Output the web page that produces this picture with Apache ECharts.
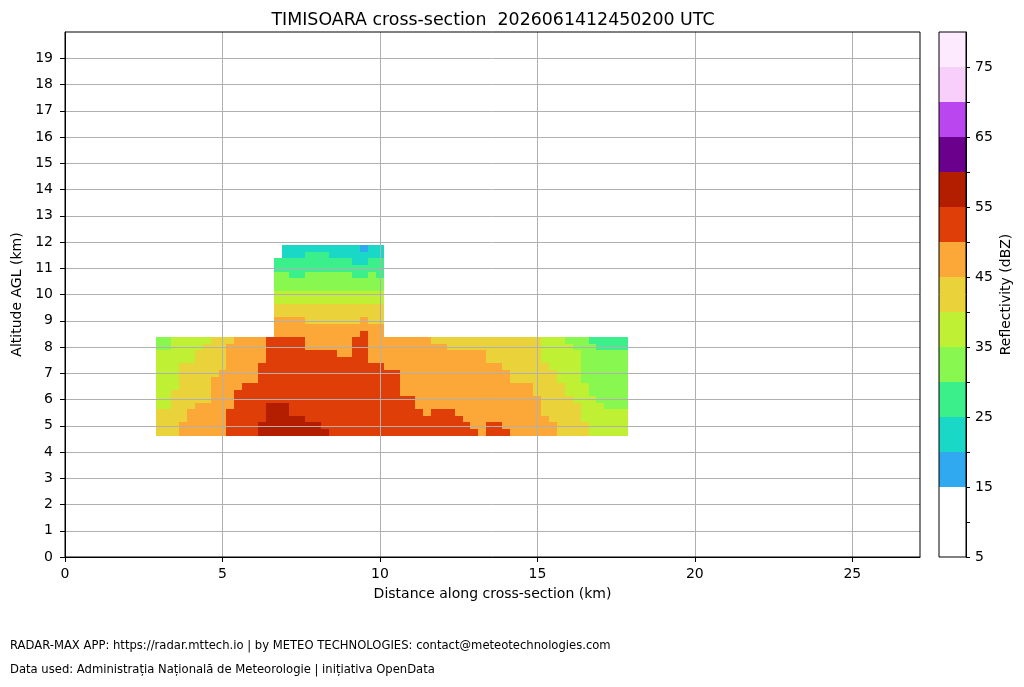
<!DOCTYPE html>
<html>
<head>
<meta charset="utf-8">
<script src="https://cdn.jsdelivr.net/npm/echarts@6/dist/echarts.min.js"></script>
<style>html,body{margin:0;padding:0;background:#fff}#c{width:1024px;height:687px}</style>
</head>
<body>
<div id="c"></div>
<script>
const titleText = 'TIMISOARA cross-section  2026061412450200 UTC';
const xAxisName = 'Distance along cross-section (km)';
const yAxisName = 'Altitude AGL (km)';
const colorbarName = 'Reflectivity (dBZ)';
const footerLines = [
  'RADAR-MAX APP: https://radar.mttech.io | by METEO TECHNOLOGIES: contact@meteotechnologies.com',
  'Data used: Administrația Națională de Meteorologie | inițiativa OpenData'
];

const xTicks = [0, 5, 10, 15, 20, 25];
const yTicks = [0, 1, 2, 3, 4, 5, 6, 7, 8, 9, 10, 11, 12, 13, 14, 15, 16, 17, 18, 19];
const cbTicks = [5, 10, 15, 20, 25, 30, 35, 40, 45, 50, 55, 60, 65, 70, 75];
const cbLabels = [5, 15, 25, 35, 45, 55, 65, 75];

const dbzBounds = [5, 10, 15, 20, 25, 30, 35, 40, 45, 50, 55, 60, 65, 70, 75, 80];
const dbzColors = ['#ffffff', '#ffffff', '#30a9f0', '#19d8c6', '#3bf08a', '#88f74f', '#c0f033', '#e9d23a',
                   '#fca838', '#e03e08', '#b31d00', '#6a008c', '#b946ee', '#f8cffa', '#fdeafe'];

// cell centres (km)
const lowerDistanceKm = [3.00, 3.25, 3.50, 3.75, 4.00, 4.25, 4.50, 4.75, 5.00, 5.25, 5.50, 5.75, 6.00, 6.25, 6.50,
  6.75, 7.00, 7.25, 7.50, 7.75, 8.00, 8.25, 8.50, 8.75, 9.00, 9.25, 9.50, 9.75, 10.00, 10.25,
  10.50, 10.75, 11.00, 11.25, 11.50, 11.75, 12.00, 12.25, 12.50, 12.75, 13.00, 13.25, 13.50, 13.75, 14.00,
  14.25, 14.50, 14.75, 15.00, 15.25, 15.50, 15.75, 16.00, 16.25, 16.50, 16.75, 17.00, 17.25, 17.50, 17.75];
const upperDistanceKm = [6.75, 7.00, 7.25, 7.50, 7.75, 8.00, 8.25, 8.50, 8.75, 9.00, 9.25, 9.50, 9.75, 10.00];
const lowerAltitudeKm = [4.75, 5.00, 5.25, 5.50, 5.75, 6.00, 6.25, 6.50, 6.75, 7.00, 7.25, 7.50, 7.75, 8.00, 8.25];
const upperAltitudeKm = [8.50, 8.75, 9.00, 9.25, 9.50, 9.75, 10.00, 10.25, 10.50, 10.75, 11.00, 11.25, 11.50, 11.75];

// reflectivity (dBZ) per row, lower block (60 columns)
const dbz_4_75 = [42,42,42, 47,47,47,47,47,47, 52,52,52,52, 57,57,57,57,57,57,57,57,57,
  52,52,52,52,52, 52,52,52,52,52, 52,52,52,52,52, 52,52,52,52, 47, 52,52,52,
  47,47,47,47,47,47, 42,42,42,42, 37,37,37,37,37];
const dbz_5_00 = [42,42,42, 47,47,47,47,47,47, 52,52,52,52, 57,57,57,57,57,57,57,57,
  52,52,52,52,52, 52,52,52,52,52, 52,52,52,52,52, 52,52,52,52, 47,47, 52,52,
  47,47,47,47,47,47,47, 42,42,42,42, 37,37,37,37,37];
const dbz_5_25 = [42,42,42,42, 47,47,47,47,47, 52,52,52,52,52, 57,57,57,57,57,
  52,52,52,52,52, 52,52,52,52,52, 52,52,52,52,52, 52,52,52,52,52,
  47,47,47,47,47, 47,47,47,47,47, 47, 42,42,42,42, 37,37,37,37,37,37];
const dbz_5_50 = [42,42,42,42, 47,47,47,47,47, 52,52,52,52,52, 57,57,57,
  52,52,52,52,52, 52,52,52,52,52, 52,52,52,52,52, 52,52, 47, 52,52,52,
  47,47,47,47,47, 47,47,47,47,47, 47, 42,42,42,42,42, 37,37,37,37,37,37];
const dbz_5_75 = [37,37, 42,42,42, 47,47,47,47,47, 52,52,52,52, 57,57,57,
  52,52,52,52,52, 52,52,52,52,52, 52,52,52,52,52, 52,
  47,47,47,47,47, 47,47,47,47,47, 47,47,47,47,47, 47,
  42,42,42,42,42, 37,37,37, 32,32,32];
const dbz_6_00 = [37,37, 42,42,42,42,42, 47,47,47,
  52,52,52,52,52, 52,52,52,52,52, 52,52,52,52,52, 52,52,52,52,52, 52,52,52,
  47,47,47,47,47, 47,47,47,47,47, 47,47,47,47,47, 47,
  42,42,42,42, 37,37,37, 32,32,32,32];
const dbz_6_25 = [37,37, 42,42,42,42,42, 47,47,47,
  52,52,52,52,52, 52,52,52,52,52, 52,52,52,52,52, 52,52,52,52,52, 52,
  47,47,47,47,47, 47,47,47,47,47, 47,47,47,47,47, 47,47,
  42,42,42,42, 37,37,37, 32,32,32,32,32];
const dbz_6_50 = [37,37,37, 42,42,42,42, 47,47,47,47,
  52,52,52,52,52, 52,52,52,52,52, 52,52,52,52,52, 52,52,52,52,52,
  47,47,47,47,47, 47,47,47,47,47, 47,47,47,47,47, 47,47,
  42,42,42,42, 37,37,37, 32,32,32,32,32];
const dbz_6_75 = [37,37,37, 42,42,42,42, 47,47,47,47,47,47,
  52,52,52,52,52, 52,52,52,52,52, 52,52,52,52,52, 52,52,52,
  47,47,47,47,47, 47,47,47,47,47, 47,47,47,47,
  42,42,42,42,42,42, 37,37,37, 32,32,32,32,32,32];
const dbz_7_00 = [37,37,37, 42,42,42,42,42, 47,47,47,47,47,
  52,52,52,52,52, 52,52,52,52,52, 52,52,52,52,52, 52,52,52,
  47,47,47,47,47, 47,47,47,47,47, 47,47,47,47,
  42,42,42,42,42,42, 37,37,37, 32,32,32,32,32,32];
const dbz_7_25 = [37,37,37, 42,42,42,42,42,42, 47,47,47,47,
  52,52,52,52,52, 52,52,52,52,52, 52,52,52,52,52, 52,
  47,47,47,47,47, 47,47,47,47,47, 47,47,47,47,47,
  42,42,42,42,42,42, 37,37,37,37, 32,32,32,32,32,32];
const dbz_7_50 = [37,37,37,37,37, 42,42,42,42, 47,47,47,47,47,
  52,52,52,52,52, 52,52,52,52,52, 52,52,52,
  47,47,47,47,47, 47,47,47,47,47, 47,47,47,47,47,
  42,42,42,42,42,42,42, 37,37,37,37,37, 32,32,32,32,32,32];
const dbz_7_75 = [37,37,37,37,37, 42,42,42,42, 47,47,47,47,47,
  52,52,52,52,52, 52,52,52,52, 47,47, 52,52,
  47,47,47,47,47, 47,47,47,47,47, 47,47,47,47,47,
  42,42,42,42,42,42,42, 37,37,37,37,37, 32,32,32,32,32,32];
const dbz_8_00 = [32,32, 37,37,37,37, 42,42,42, 47,47,47,47,47, 52,52,52,52,52,
  47,47,47,47,47,47, 52,52, 47,47,47,47,47, 47,47,47,47,47,
  42,42,42,42,42, 42,42,42,42,42, 42,42, 37,37,37,37, 32,32,32, 27,27,27,27];
const dbz_8_25 = [32,32, 37,37,37,37,37, 42,42,42, 47,47,47,47, 52,52,52,52,52,
  47,47,47,47,47,47, 52,52, 47,47,47,47,47,47,47,47,
  42,42,42,42,42, 42,42,42,42,42, 42,42,42,42, 37,37,37, 32,32,32, 27,27,27,27,27];

// reflectivity (dBZ) per row, upper block (14 columns, 6.75–10.00 km)
const dbz_8_50 = [47,47,47,47,47, 47,47,47,47,47, 47, 52, 47,47];
const dbz_8_75 = [47,47,47,47,47, 47,47,47,47,47, 47,47,47,47];
const dbz_9_00 = [47,47,47,47, 42,42,42,42,42,42,42, 47, 42,42];
const dbz_9_25 = [42,42,42,42,42, 42,42,42,42,42, 42,42,42,42];
const dbz_9_50 = [42,42,42,42,42, 42,42,42,42,42, 42,42,42,42];
const dbz_9_75 = [37,37,37,37,37, 37,37,37,37,37, 37,37,37,37];
const dbz_10_00 = [37,37,37,37,37, 37,37,37,37,37, 37,37,37,37];
const dbz_10_25 = [32,32,32,32,32, 32,32,32,32,32, 32,32,32,32];
const dbz_10_50 = [32,32,32,32,32, 32,32,32,32,32, 32,32,32,32];
const dbz_10_75 = [32,32, 27,27, 32,32,32,32,32,32, 27,27, 32, 27];
const dbz_11_00 = [27,27,27,27,27, 27,27,27,27,27, 27,27,27,27];
const dbz_11_25 = [27,27,27,27,27, 27,27,27,27,27, 22,22, 27,27];
const dbz_11_50 = [null, 22,22,22, 27,27,27, 22,22,22,22,22,22,22];
const dbz_11_75 = [null, 22,22,22,22,22, 22,22,22,22,22, 17, 22,22];

const lowerRows = [dbz_4_75, dbz_5_00, dbz_5_25, dbz_5_50, dbz_5_75, dbz_6_00, dbz_6_25, dbz_6_50,
  dbz_6_75, dbz_7_00, dbz_7_25, dbz_7_50, dbz_7_75, dbz_8_00, dbz_8_25];
const upperRows = [dbz_8_50, dbz_8_75, dbz_9_00, dbz_9_25, dbz_9_50, dbz_9_75, dbz_10_00, dbz_10_25,
  dbz_10_50, dbz_10_75, dbz_11_00, dbz_11_25, dbz_11_50, dbz_11_75];

const CELL_W = 0.25, CELL_H = 0.25;
const FONT = 'DejaVu Sans';

function buildCells(xs, ys, rows) {
  const out = [];
  rows.forEach(function (row, i) {
    if (row.length !== xs.length) throw new Error('row ' + ys[i] + ' has ' + row.length + ' values, expected ' + xs.length);
    row.forEach(function (v, k) { if (v !== null) out.push([xs[k], ys[i], v]); });
  });
  return out;
}
const cells = buildCells(lowerDistanceKm, lowerAltitudeKm, lowerRows)
  .concat(buildCells(upperDistanceKm, upperAltitudeKm, upperRows));

const bands = [];
for (let i = 0; i < dbzColors.length; i++) bands.push([dbzBounds[i], dbzBounds[i + 1], (dbzBounds[i] + dbzBounds[i + 1]) / 2]);
const pieces = bands.map(function (b, i) { return { gte: b[0], lt: b[1], color: dbzColors[i] }; });

function snappedRect(p0, p1, fill) {
  const x0 = Math.round(p0[0]), x1 = Math.round(p1[0]);
  const y0 = Math.round(p0[1]), y1 = Math.round(p1[1]);
  return { type: 'rect', shape: { x: x0, y: y0, width: x1 - x0, height: y1 - y0 },
           style: { fill: fill }, silent: true };
}
function renderCell(params, api) {
  const x = api.value(0), y = api.value(1);
  return snappedRect(api.coord([x - CELL_W / 2, y + CELL_H / 2]),
                     api.coord([x + CELL_W / 2, y - CELL_H / 2]), api.visual('color'));
}
function renderBand(params, api) {
  return snappedRect(api.coord([0, api.value(1)]), api.coord([1, api.value(0)]), api.visual('color'));
}

const tickFont = { fontFamily: FONT, fontSize: 14, color: '#000' };
const chart = echarts.init(document.getElementById('c'), null, { renderer: 'canvas', width: 1024, height: 687 });
chart.setOption({
  animation: false,
  backgroundColor: '#ffffff',
  textStyle: { fontFamily: FONT },
  title: { text: titleText, left: 488, top: 7, textAlign: 'center',
           textStyle: { fontFamily: FONT, fontSize: 17.4, fontWeight: 'normal', color: '#000' } },
  grid: [
    { left: 65, top: 32, width: 855, height: 525, show: true, borderColor: '#000', borderWidth: 1, backgroundColor: 'transparent', z: 10 },
    { left: 939, top: 32, width: 27, height: 525, show: true, borderColor: '#000', borderWidth: 1, backgroundColor: 'transparent', z: 10 }
  ],
  xAxis: [
    { type: 'value', gridIndex: 0, min: 0, max: 27.15, interval: 5, z: 5,
      axisLine: { show: true, onZero: false, lineStyle: { color: '#000', width: 1 } },
      axisTick: { show: true, length: 5, customValues: xTicks, lineStyle: { color: '#000' } },
      axisLabel: Object.assign({ customValues: xTicks, margin: 10 }, tickFont),
      splitLine: { show: true, lineStyle: { color: '#b0b0b0', width: 1 } },
      name: xAxisName, nameLocation: 'middle', nameGap: 30,
      nameTextStyle: { fontFamily: FONT, fontSize: 14, color: '#000' } },
    { type: 'value', gridIndex: 1, min: 0, max: 1, show: false }
  ],
  yAxis: [
    { type: 'value', gridIndex: 0, min: 0, max: 20, interval: 1, z: 5,
      axisLine: { show: true, onZero: false, lineStyle: { color: '#000', width: 1 } },
      axisTick: { show: true, length: 5, customValues: yTicks, lineStyle: { color: '#000' } },
      axisLabel: Object.assign({ customValues: yTicks, margin: 12 }, tickFont),
      splitLine: { show: true, lineStyle: { color: '#b0b0b0', width: 1 } },
      name: yAxisName, nameLocation: 'middle', nameGap: 36,
      nameTextStyle: { fontFamily: FONT, fontSize: 14, color: '#000' } },
    { type: 'value', gridIndex: 1, position: 'right', min: 5, max: 80, interval: 5, z: 5,
      axisLine: { show: true, onZero: false, lineStyle: { color: '#000', width: 1 } },
      axisTick: { show: true, length: 4, customValues: cbTicks, lineStyle: { color: '#000' } },
      axisLabel: Object.assign({ customValues: cbLabels, margin: 9 }, tickFont),
      splitLine: { show: false } }
  ],
  visualMap: { type: 'piecewise', show: false, dimension: 2, seriesIndex: [0, 1], pieces: pieces },
  series: [
    { type: 'custom', xAxisIndex: 0, yAxisIndex: 0, renderItem: renderCell, data: cells, clip: true, z: 2 },
    { type: 'custom', xAxisIndex: 1, yAxisIndex: 1, renderItem: renderBand, data: bands, z: 2 }
  ],
  graphic: [
    { type: 'text', x: 1006, y: 294.5, rotation: Math.PI / 2,
      style: { text: colorbarName, fontFamily: FONT, fontSize: 14, fill: '#000', textAlign: 'center', textVerticalAlign: 'middle' } },
    { type: 'text', left: 10, top: 639.5, style: { text: footerLines[0], fontFamily: FONT, fontSize: 11.6, fill: '#000' } },
    { type: 'text', left: 10, top: 664, style: { text: footerLines[1], fontFamily: FONT, fontSize: 11.6, fill: '#000' } }
  ]
});
</script>
</body>
</html>
